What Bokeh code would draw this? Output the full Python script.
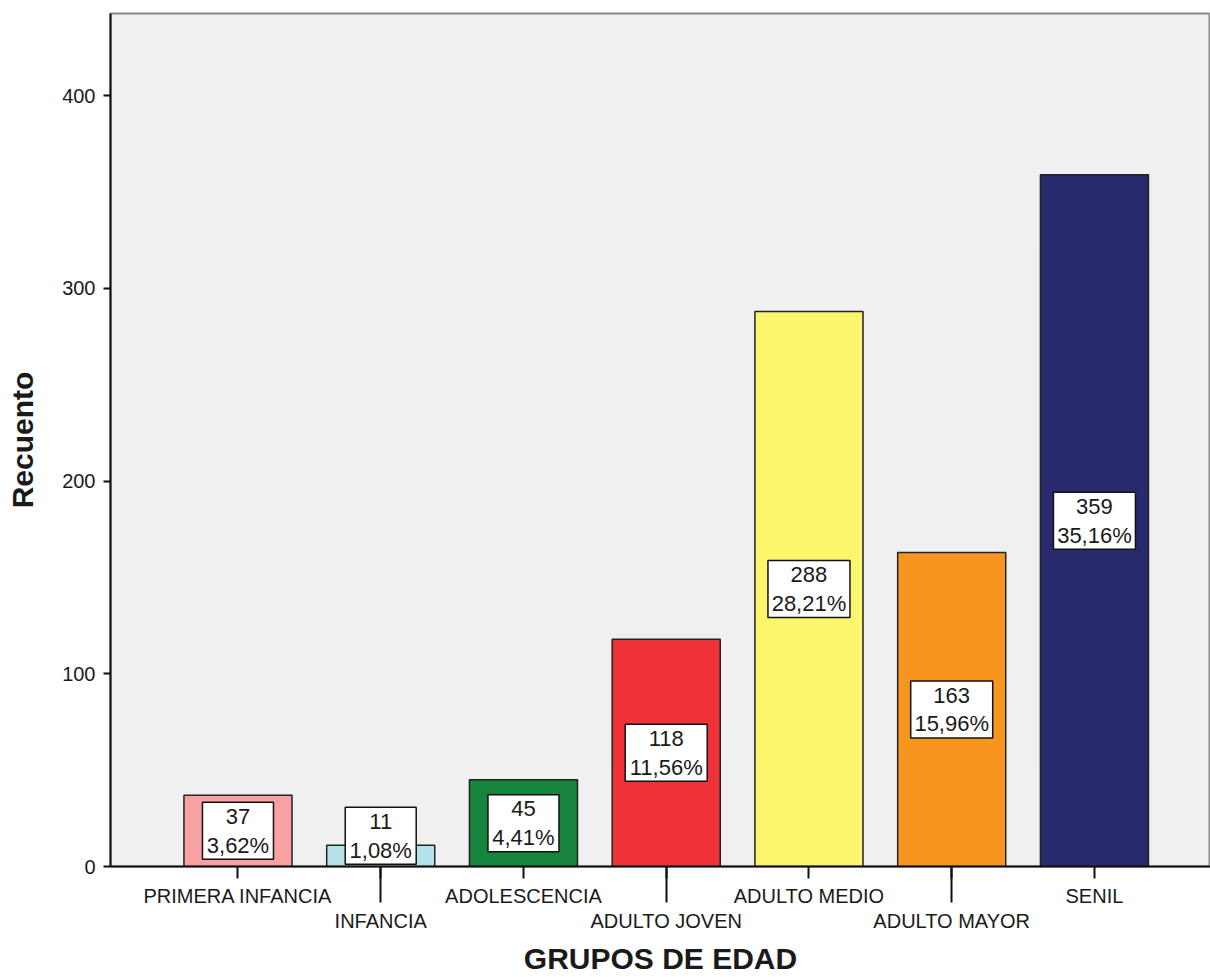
from bokeh.plotting import figure
from bokeh.models import FixedTicker, ColumnDataSource
from bokeh.embed import file_html
from bokeh.resources import INLINE
from bokeh.core.properties import value

# ---- data ----
categories = ["PRIMERA INFANCIA", "INFANCIA", "ADOLESCENCIA", "ADULTO JOVEN",
              "ADULTO MEDIO", "ADULTO MAYOR", "SENIL"]
counts = [37, 11, 45, 118, 288, 163, 359]
percents = ["3,62%", "1,08%", "4,41%", "11,56%", "28,21%", "15,96%", "35,16%"]
colors = ["#F7A1A3", "#B3E2E8", "#15843D", "#EE3237", "#FCF66C", "#F7961F", "#292A6D"]
y_ticks = [0, 100, 200, 300, 400]

xs = list(range(len(categories)))
FONT = "Liberation Sans"

bars = ColumnDataSource(dict(x=xs, top=counts, color=colors))
label_y = [max(c / 2, 16) for c in counts]
labels = ColumnDataSource(dict(
    x=xs, y=label_y,
    w=[11 * len(pc) + 16 for pc in percents],
    text=[f"{c}\n{pc}" for c, pc in zip(counts, percents)],
))

p = figure(width=1210, height=977, x_range=(-0.893, 6.813), y_range=(0, 442.7),
           output_backend="svg", toolbar_location=None,
           min_border_left=110, min_border_right=0, min_border_top=13, min_border_bottom=111)

p.background_fill_color = "#F0F0F0"
p.border_fill_color = "white"
p.outline_line_color = "#8a8a8a"
p.outline_line_width = 2
p.xgrid.visible = False
p.ygrid.visible = False

p.vbar(x="x", top="top", width=0.757, source=bars, fill_color="color",
       line_color="#222222", line_width=1.5)

p.rect(x="x", y="y", width="w", width_units="screen", height=57, height_units="screen",
       source=labels, fill_color="white", line_color="#111111", line_width=1.5)
p.text(x="x", y="y", text="text", source=labels, text_align="center",
       text_baseline="middle", text_font=value(FONT), text_font_size="22px",
       text_color="#1a1a1a", text_line_height=1.15)

# x axis
xa = p.xaxis[0]
xa.ticker = FixedTicker(ticks=xs, minor_ticks=[x for x in xs if x % 2 == 1])
xa.major_label_overrides = {i: ("\n" if i % 2 else "") + c for i, c in enumerate(categories)}
xa.major_tick_out = 12
xa.major_tick_in = 0
xa.minor_tick_out = 36
xa.minor_tick_in = 0
xa.major_tick_line_width = 2
xa.minor_tick_line_width = 2
xa.major_tick_line_color = "#111111"
xa.minor_tick_line_color = "#111111"
xa.axis_line_width = 2
xa.axis_line_color = "#111111"
xa.major_label_standoff = -18
xa.major_label_text_font = FONT
xa.major_label_text_font_size = "20px"
xa.major_label_text_color = "#1a1a1a"
xa.major_label_text_line_height = 1.15
xa.axis_label = "GRUPOS DE EDAD"
xa.axis_label_text_font = FONT
xa.axis_label_text_font_style = "bold"
xa.axis_label_text_font_size = "30px"
xa.axis_label_text_color = "#1a1a1a"
xa.axis_label_text_line_height = 1.0
xa.axis_label_standoff = 7

# y axis
ya = p.yaxis[0]
ya.ticker = FixedTicker(ticks=y_ticks)
ya.major_tick_out = 7
ya.major_tick_in = 0
ya.minor_tick_out = 0
ya.minor_tick_in = 0
ya.major_tick_line_width = 2
ya.major_tick_line_color = "#111111"
ya.axis_line_width = 2
ya.axis_line_color = "#111111"
ya.major_label_standoff = 8
ya.major_label_text_font = FONT
ya.major_label_text_font_size = "20px"
ya.major_label_text_color = "#1a1a1a"
ya.axis_label = "Recuento"
ya.axis_label_text_font = FONT
ya.axis_label_text_font_style = "bold"
ya.axis_label_text_font_size = "30px"
ya.axis_label_text_color = "#1a1a1a"
ya.axis_label_standoff = 20

open("out.html", "w").write(file_html(p, INLINE))
